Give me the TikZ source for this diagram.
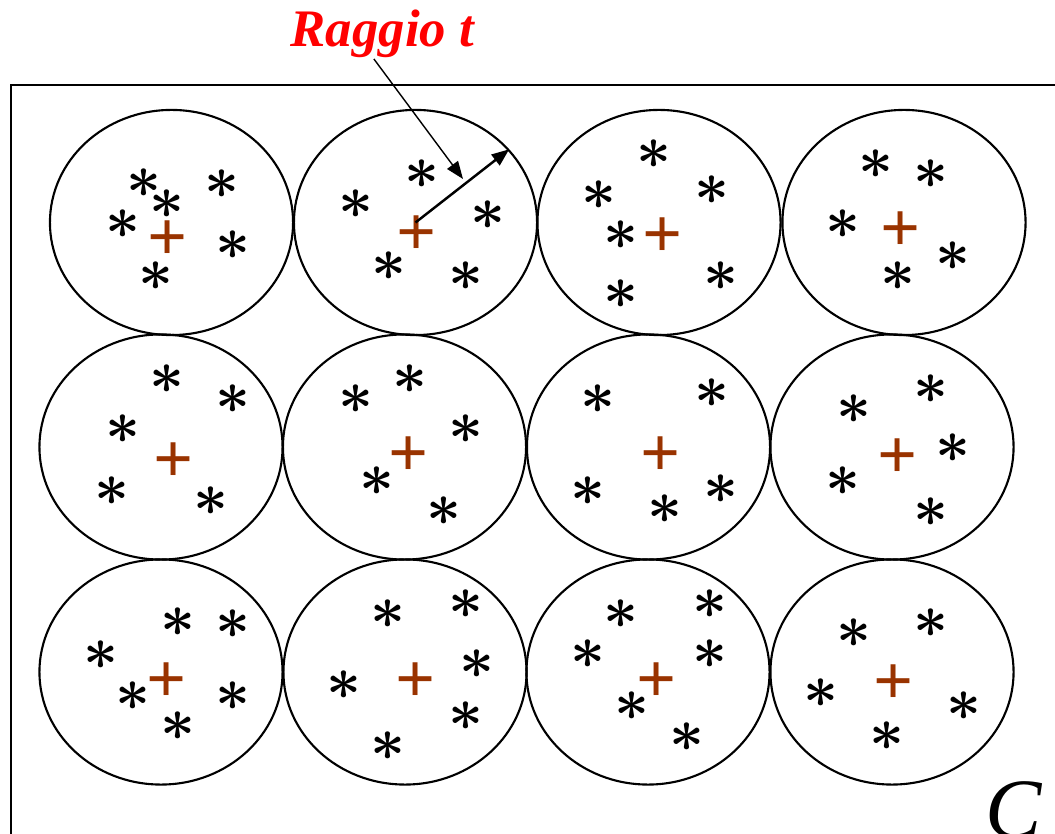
\documentclass[tikz,border=0pt]{standalone}
\usepackage{fontspec}
\setmainfont{Liberation Serif}
\usepackage{xcolor}
\usepackage{tikz}
\usetikzlibrary{arrows.meta,shapes.geometric}
\definecolor{croce}{RGB}{153,51,0}
\definecolor{titolo}{RGB}{255,0,0}

\begin{document}
\begin{tikzpicture}[x=0.01cm,y=-0.01cm,
  gruppo/.style={draw,ellipse,line width=0.6pt,minimum width=2.43cm,minimum height=2.25cm,inner sep=0},
  stella/.style={font=\fontsize{18.5}{18.5}\selectfont\boldmath,inner sep=0},
  centro/.style={font=\bfseries\fontsize{20}{20}\selectfont,text=croce,inner sep=0},
  punta/.style={-{Triangle[length=5pt,width=3.8pt]}}]
  \useasboundingbox (0,0) rectangle (1055,834); \clip (0,0) rectangle (1055,834);
  \draw[line width=0.6pt] (11,85) rectangle (1080,860);
  % cluster
  \foreach \n/\x/\y in {e11/171.5/222.5,e12/415.5/222.5,e13/659/222.5,e14/904/222.5,
    e21/161/447,e22/404.5/447,e23/648.5/447,e24/892/447,
    e31/161/672,e32/405/672,e33/648/672,e34/892/672}
    {\node[gruppo] (\n) at (\x,\y) {};}
  % centroidi
  \foreach \n/\x/\y in {c11/168/241,c12/417/236,c13/663/238,c14/901/232,
    c21/174/463,c22/409/457,c23/661/457,c24/898/459,
    c31/167/683,c32/416/683,c33/657/683,c34/894/685}
    {\node[centro] (\n) at (\x,\y) {+};}
  % punti
  \foreach \x/\y [count=\i] in {144/183,167/204,222/184,123/224,233/245,156/276} {\node[stella] (s11-\i) at (\x,\y) {$\ast$};}
  \foreach \x/\y [count=\i] in {422/174,356/204,488/215,389/266,466/276} {\node[stella] (s12-\i) at (\x,\y) {$\ast$};}
  \foreach \x/\y [count=\i] in {654/154,599/195,712/190,621/235,721/276,621/294} {\node[stella] (s13-\i) at (\x,\y) {$\ast$};}
  \foreach \x/\y [count=\i] in {876/164,931/174,843/224,953/256,898/276} {\node[stella] (s14-\i) at (\x,\y) {$\ast$};}
  \foreach \x/\y [count=\i] in {167/379,233/399,123/429,112/491,211/501} {\node[stella] (s21-\i) at (\x,\y) {$\ast$};}
  \foreach \x/\y [count=\i] in {410/379,356/399,466/429,377/481,444/511} {\node[stella] (s22-\i) at (\x,\y) {$\ast$};}
  \foreach \x/\y [count=\i] in {598/399,712/393,588/491,721/489,665/509} {\node[stella] (s23-\i) at (\x,\y) {$\ast$};}
  \foreach \x/\y [count=\i] in {931/389,854/409,953/448,843/481,931/512} {\node[stella] (s24-\i) at (\x,\y) {$\ast$};}
  \foreach \x/\y [count=\i] in {178/622,233/624,101/655,133/696,233/696,178/726} {\node[stella] (s31-\i) at (\x,\y) {$\ast$};}
  \foreach \x/\y [count=\i] in {388/614,466/604,477/664,344/685,466/716,388/746} {\node[stella] (s32-\i) at (\x,\y) {$\ast$};}
  \foreach \x/\y [count=\i] in {621/614,710/604,588/654,710/654,632/706,687/737} {\node[stella] (s33-\i) at (\x,\y) {$\ast$};}
  \foreach \x/\y [count=\i] in {854/633,931/623,821/693,964/706,887/736} {\node[stella] (s34-\i) at (\x,\y) {$\ast$};}
  % raggio
  \node[font=\bfseries\itshape\fontsize{15}{15}\selectfont,text=titolo,anchor=base west,inner sep=0] (raggio) at (290,47) {Raggio t};
  \coordinate (freccia) at (463,179);
  \draw[punta,line width=0.4pt] ([xshift=-2.4pt]raggio.south) -- (freccia);
  \draw[punta,line width=0.7pt] (e12.center) -- (e12.38.5);
  \node[font=\itshape\fontsize{24}{24}\selectfont,anchor=base west,inner sep=0] (insieme) at (984.5,837) {C};
\end{tikzpicture}
\end{document}
